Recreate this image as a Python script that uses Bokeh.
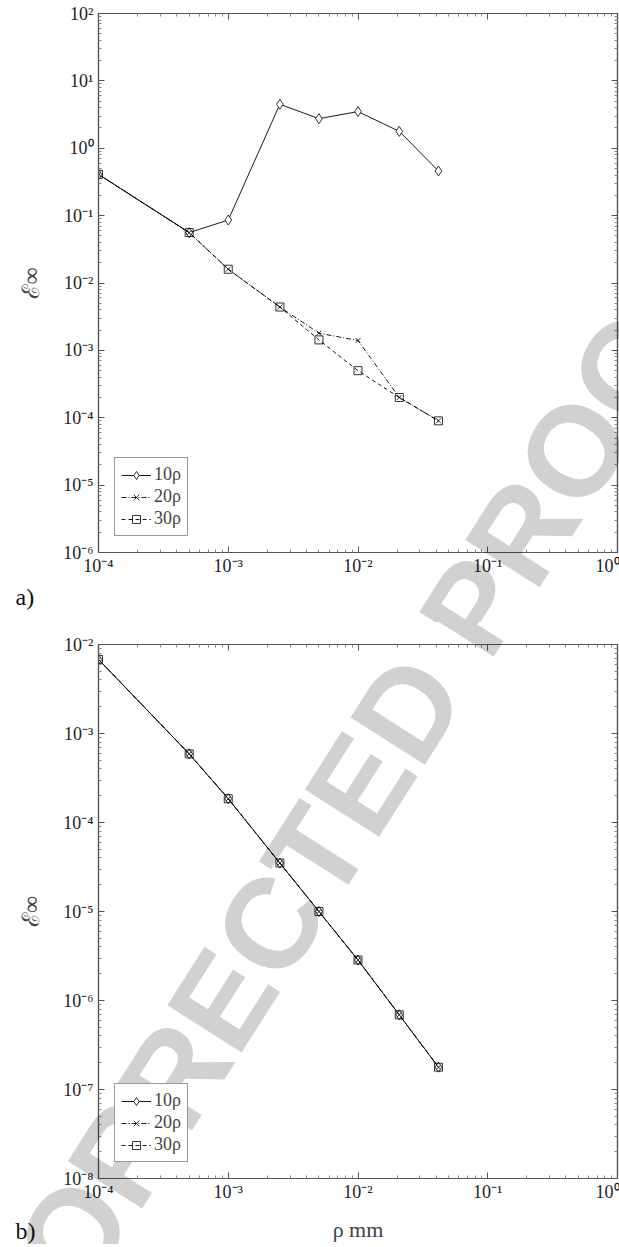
import math
from bokeh.plotting import figure
from bokeh.models import (LogAxis, FixedTicker, CustomJSTickFormatter, Legend,
                          LegendItem, Range1d)
from bokeh.core.properties import value
from bokeh.layouts import column
from bokeh.embed import file_html
from bokeh.resources import INLINE

# ---------------- data ----------------
rho = [1e-4, 5e-4, 1e-3, 2.5e-3, 5e-3, 1e-2, 2.08e-2, 4.17e-2]

# panel a)
a_10rho = [0.41, 0.056, 0.086, 4.5, 2.75, 3.5, 1.78, 0.46]
a_20rho = [0.41, 0.056, 0.016, 0.0044, 0.0018, 0.0014, 0.0002, 0.00009]
a_30rho = [0.41, 0.056, 0.016, 0.0044, 0.00143, 0.0005, 0.0002, 0.00009]

# panel b)
b_10rho = [6.8e-3, 5.9e-4, 1.85e-4, 3.5e-5, 1.0e-5, 2.85e-6, 6.9e-7, 1.78e-7]
b_20rho = [6.8e-3, 5.9e-4, 1.85e-4, 3.5e-5, 1.0e-5, 2.85e-6, 6.9e-7, 1.78e-7]
b_30rho = [6.8e-3, 5.9e-4, 1.85e-4, 3.5e-5, 1.0e-5, 2.85e-6, 6.9e-7, 1.78e-7]

series_labels = ["10ρ", "20ρ", "30ρ"]
x_exp = (-4, 0)
a_exp = (-6, 2)
b_exp = (-8, -2)

SERIF = "Liberation Serif"
WM_TEXT = "CORRECTED PROOF"

# layout geometry (pixels)
FW, FH = 519, 539          # frame size
BL, BR = 98, 2             # left / right borders
TOP_H = 622                # height of the first figure

fmt_code = """
const e = Math.round(Math.log10(tick));
const m = {'-':'\u207b','0':'\u2070','1':'\u00b9','2':'\u00b2','3':'\u00b3','4':'\u2074',
           '5':'\u2075','6':'\u2076','7':'\u2077','8':'\u2078','9':'\u2079'};
return '10' + String(e).split('').map(c => m[c]).join('');
"""


def tickers(e0, e1):
    majors = [10.0 ** e for e in range(e0, e1 + 1)]
    minors = [m * 10.0 ** e for e in range(e0, e1) for m in range(2, 10)]
    return FixedTicker(ticks=majors, minor_ticks=minors)


def style_axis(ax, show_labels):
    ax.major_tick_in = 6
    ax.major_tick_out = 0
    ax.minor_tick_in = 3
    ax.minor_tick_out = 0
    ax.major_tick_line_color = "#555555"
    ax.minor_tick_line_color = "#888888"
    ax.axis_line_color = "#555555"
    ax.axis_line_width = 1.2
    if show_labels:
        ax.formatter = CustomJSTickFormatter(code=fmt_code)
        ax.major_label_text_font = SERIF
        ax.major_label_text_font_size = "18px"
        ax.major_label_text_color = "#222222"
    else:
        ax.major_label_text_font_size = "1px"
        ax.major_label_text_alpha = 0
        ax.major_label_standoff = 0


def make_fig(yexp, s10, s20, s30, border_top, border_bottom, xlabel,
             tag, tag_px, wm_px):
    p = figure(x_axis_type="log", y_axis_type="log",
               width=BL + FW + BR, height=border_top + FH + border_bottom,
               min_border_left=BL, min_border_right=BR,
               min_border_top=border_top, min_border_bottom=border_bottom,
               x_range=Range1d(10.0 ** x_exp[0], 10.0 ** x_exp[1]),
               y_range=Range1d(10.0 ** yexp[0], 10.0 ** yexp[1]),
               output_backend="svg", toolbar_location=None)
    p.grid.visible = False
    p.outline_line_color = "#555555"
    p.outline_line_width = 1.2
    p.background_fill_color = "white"
    p.border_fill_color = "white"

    # anchor for free texts: centre of the frame, shifted in screen pixels
    ax_ = 10.0 ** ((x_exp[0] + x_exp[1]) / 2)
    ay_ = 10.0 ** ((yexp[0] + yexp[1]) / 2)
    cx, cy = BL + FW / 2, border_top + FH / 2

    xb = p.below[0]
    yl = p.left[0]
    xb.ticker = tickers(*x_exp)
    yl.ticker = tickers(*yexp)
    style_axis(xb, True)
    style_axis(yl, True)
    xb.major_label_standoff = 3
    yl.major_label_standoff = 5

    yl.axis_label = "ℰ∞"
    yl.axis_label_text_font = SERIF
    yl.axis_label_text_font_style = "normal"
    yl.axis_label_text_font_size = "24px"
    yl.axis_label_standoff = 16
    if xlabel:
        xb.axis_label = xlabel
        xb.axis_label_text_font = SERIF
        xb.axis_label_text_font_style = "normal"
        xb.axis_label_text_font_size = "22px"
        xb.axis_label_standoff = 12

    top = LogAxis(ticker=tickers(*x_exp))
    right = LogAxis(ticker=tickers(*yexp))
    style_axis(top, False)
    style_axis(right, False)
    p.add_layout(top, "above")
    p.add_layout(right, "right")

    lw = 0.9
    l10 = p.line(rho, s10, line_color="black", line_width=lw)
    m10 = p.scatter(rho, s10, marker="diamond", size=10, line_color="black",
                    fill_color="white", line_width=0.8)
    l20 = p.line(rho, s20, line_color="black", line_width=lw, line_dash="5 2 1 2")
    m20 = p.scatter(rho, s20, marker="x", size=7, line_color="black", line_width=0.8)
    l30 = p.line(rho, s30, line_color="black", line_width=lw, line_dash="4 3")
    m30 = p.scatter(rho, s30, marker="square", size=8, line_color="black",
                    fill_color=None, line_width=0.8)

    # watermark (translucent so that the curves stay visible through it)
    p.text(x=[ax_], y=[ay_], text=[WM_TEXT], angle=57.5, angle_units="deg",
           x_offset=wm_px[0] - cx, y_offset=wm_px[1] - cy,
           text_align="center", text_baseline="middle",
           text_font=value("Liberation Sans"), text_font_style="bold",
           text_font_size="128px", text_color="black", text_alpha=0.18,
           level="overlay")

    # panel tag a) / b)
    p.text(x=[ax_], y=[ay_], text=[tag],
           x_offset=tag_px[0] - cx, y_offset=tag_px[1] - cy,
           text_align="left", text_baseline="middle",
           text_font=value(SERIF), text_font_size="24px",
           text_color="#111111", level="overlay")

    legend = Legend(items=[LegendItem(label=series_labels[0], renderers=[l10, m10]),
                           LegendItem(label=series_labels[1], renderers=[l20, m20]),
                           LegendItem(label=series_labels[2], renderers=[l30, m30])],
                    location="bottom_left", margin=16, padding=6, spacing=1,
                    glyph_width=30, glyph_height=20, label_height=20,
                    label_standoff=3, label_text_font=SERIF,
                    label_text_font_size="18px", border_line_color="#333333",
                    border_line_width=1, background_fill_color="white",
                    background_fill_alpha=1.0, level="overlay")
    p.add_layout(legend)
    return p


# watermark centre in page pixels
WM_X, WM_Y = 346, 807
p1 = make_fig(a_exp, a_10rho, a_20rho, a_30rho, 13, 70, None,
              "a)", (15, 596), (WM_X, WM_Y))
p2 = make_fig(b_exp, b_10rho, b_20rho, b_30rho, 22, 61, "ρ mm",
              "b)", (15, 1233 - TOP_H), (WM_X, WM_Y - TOP_H))

layout = column(p1, p2, spacing=0)
open("out.html", "w").write(file_html(layout, INLINE))
